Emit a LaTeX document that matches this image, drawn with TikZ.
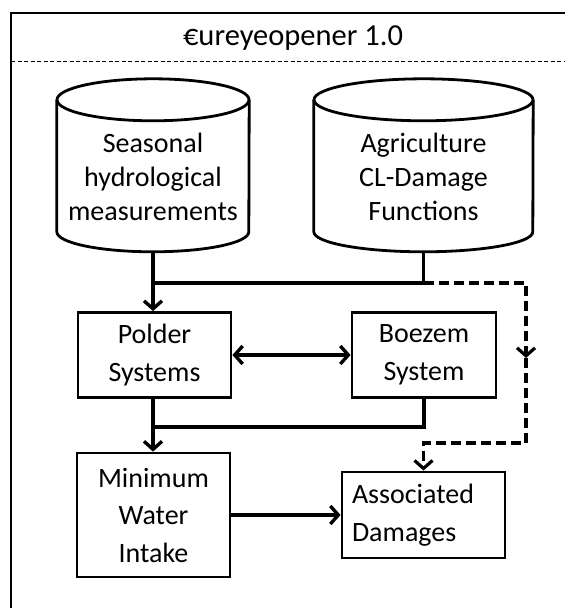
\documentclass[tikz,border=0pt]{standalone}
\usepackage{fontspec}
\setmainfont{Carlito}
\usetikzlibrary{arrows.meta,calc}
\begin{document}
\begin{tikzpicture}[x=1pt,y=-1pt,
  cylnode/.style={font=\fontsize{28}{34}\selectfont, align=center, inner sep=0pt, minimum height=152pt},
  boxnode/.style={draw, line width=2.8pt, font=\fontsize{28}{37.5}\selectfont, align=center, inner sep=0pt},
  cylline/.style={line width=2.8pt},
  conn/.style={line width=3.4pt},
  tip/.style={-{Straight Barb[length=8pt,width=18pt]}},
  dashline/.style={line width=3.2pt, dash pattern=on 10pt off 5pt},
  frame/.style={line width=2pt},
  sepline/.style={line width=0.9pt, dash pattern=on 4pt off 2.5pt}]
\useasboundingbox (0,0) rectangle (565,608);
\clip (0,0) rectangle (565,608);
\fill[white] (0,0) rectangle (565,608);
% frame and title
\draw[frame] (11,13) rectangle (600,650);
\draw[sepline] (11,61) -- (565,61);
\node[font=\fontsize{30.5}{34}\selectfont, inner sep=0pt] (title) at (293,38) {€ureyeopener 1.0};
% cylinders
\node[cylnode, minimum width=192pt] (seas) at (153,177) {Seasonal\\hydrological\\measurements};
\node[cylnode, minimum width=219pt] (agri) at (423.5,177) {Agriculture\\CL-Damage\\Functions};
\draw[cylline] ($(seas.north)+(0,-1)$) ellipse [x radius=96pt, y radius=21pt];
\draw[cylline] ($(seas.north west)+(0,-1)$) -- ++(0,132) arc[start angle=180, end angle=360, x radius=96pt, y radius=20pt] -- ($(seas.north east)+(0,-1)$);
\draw[cylline] ($(agri.north)+(0,-1)$) ellipse [x radius=109.5pt, y radius=21pt];
\draw[cylline] ($(agri.north west)+(0,-1)$) -- ++(0,132) arc[start angle=180, end angle=360, x radius=109.5pt, y radius=20pt] -- ($(agri.north east)+(0,-1)$);
% boxes
\node[boxnode, minimum width=153pt, minimum height=85pt] (polder) at (154.5,355) {Polder\\Systems};
\node[boxnode, minimum width=144pt, minimum height=85pt] (boezem) at (424,355) {Boezem\\System};
\node[boxnode, minimum width=153pt, minimum height=124pt] (minw) at (153.5,515) {Minimum\\Water\\Intake};
\node[boxnode, text width=143pt, inner sep=10pt, minimum height=86pt, align=left] (assoc) at (423.5,515) {Associated\\Damages};
% connectors
\coordinate (j1) at (153,283);
\coordinate (j2) at (153,427);
\coordinate (dr) at (526,283);
\coordinate (dmid) at (526,358);
\coordinate (db) at (526,443);
\draw[conn, tip] (seas.south) -- (seas.south |- polder.north);
\draw[conn] (agri.south) |- (j1);
\draw[dashline, tip] (agri.south |- j1) -- (dr) -- (dmid);
\draw[dashline, tip] (dmid) -- (db) -| (assoc.north);
\draw[conn, {Straight Barb[length=8pt,width=18pt]}-{Straight Barb[length=8pt,width=18pt]}] (polder.east) -- (boezem.west);
\draw[conn] (boezem.south) |- (j2);
\draw[conn, tip] (j2 |- polder.south) -- (j2 |- minw.north);
\draw[conn, tip] (minw.east) -- (minw.east -| assoc.west);
\end{tikzpicture}
\end{document}
